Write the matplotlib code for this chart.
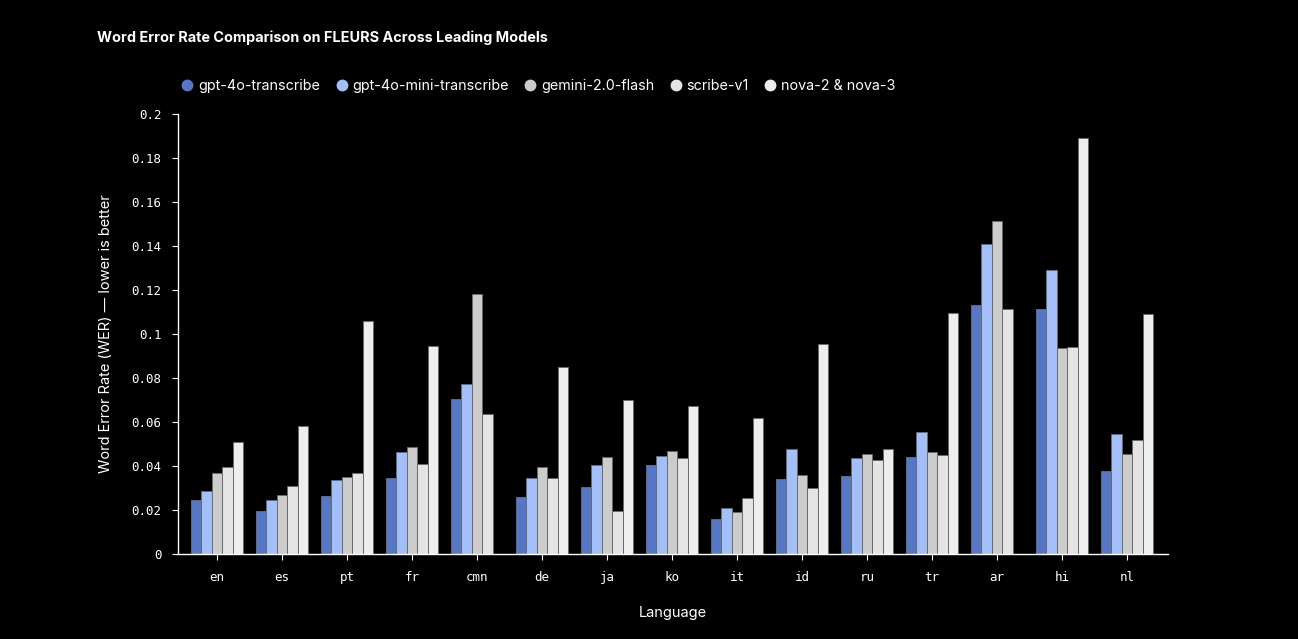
import numpy as np
import matplotlib.pyplot as plt
from matplotlib.lines import Line2D

languages = ["en", "es", "pt", "fr", "cmn", "de", "ja", "ko", "it", "id", "ru", "tr", "ar", "hi", "nl"]
models = ["gpt-4o-transcribe", "gpt-4o-mini-transcribe", "gemini-2.0-flash", "scribe-v1", "nova-2 & nova-3"]
colors = ["#5577C5", "#A3BFFA", "#CCCCCC", "#E4E4E4", "#EEEEEE"]

gpt4o = [0.0247, 0.0197, 0.0264, 0.0347, 0.0705, 0.0259, 0.0305, 0.0405, 0.0161, 0.0343, 0.0355, 0.0442, 0.1130, 0.1114, 0.0379]
gpt4o_mini = [0.0288, 0.0245, 0.0338, 0.0465, 0.0771, 0.0347, 0.0403, 0.0447, 0.0208, 0.0476, 0.0435, 0.0553, 0.1408, 0.1291, 0.0545]
gemini = [0.0366, 0.0268, 0.0350, 0.0486, 0.1183, 0.0395, 0.0443, 0.0467, 0.0190, 0.0361, 0.0455, 0.0465, 0.1514, 0.0936, 0.0455]
scribe = [0.0395, 0.0307, 0.0366, 0.0409, 0.0635, 0.0347, 0.0197, 0.0436, 0.0253, 0.0300, 0.0427, 0.0449, 0.1115, 0.0941, 0.0517]
nova = [0.0509, 0.0582, 0.1060, 0.0947, np.nan, 0.0849, 0.0700, 0.0671, 0.0617, 0.0955, 0.0477, 0.1095, np.nan, 0.1891, 0.1091]
series = [gpt4o, gpt4o_mini, gemini, scribe, nova]

plt.rcParams['font.family'] = ['Inter', 'DejaVu Sans']

fig = plt.figure(figsize=(12.98, 6.39), dpi=100, facecolor='black')
ax = fig.add_axes([178/1298, 85/639, 990/1298, 440/639])
ax.set_facecolor('black')

x = np.arange(len(languages))
w = 0.16
for i, (vals, c) in enumerate(zip(series, colors)):
    v = np.array(vals, dtype=float)
    m = ~np.isnan(v)
    ax.bar(x[m] + (i - 2) * w, v[m], width=w, color=c, edgecolor='#6a6a6a', linewidth=0.7)

ax.set_xlim(-0.6, len(languages) - 1 + 0.63)
ax.set_ylim(0, 0.2)
ax.set_yticks(np.arange(0, 0.201, 0.02))
ax.set_yticklabels(['0', '0.02', '0.04', '0.06', '0.08', '0.1', '0.12', '0.14', '0.16', '0.18', '0.2'])
ax.set_xticks(x)
ax.set_xticklabels(languages)

for lab in ax.get_xticklabels() + ax.get_yticklabels():
    lab.set_family('DejaVu Sans Mono')
    lab.set_fontsize(9)
    lab.set_color('white')

ax.tick_params(colors='white', length=4, width=0.8, pad=8)
for s in ['top', 'right']:
    ax.spines[s].set_visible(False)
for s in ['left', 'bottom']:
    ax.spines[s].set_color('white')
    ax.spines[s].set_linewidth(1)

ax.set_ylabel('Word Error Rate (WER) — lower is better', color='white', fontsize=10.5, labelpad=13)
ax.set_xlabel('Language', color='white', fontsize=10.5, labelpad=16)

fig.text(97/1298, 1 - 38/639, 'Word Error Rate Comparison on FLEURS Across Leading Models',
         color='white', fontsize=10.4, fontweight='bold', va='center', ha='left')

handles = [Line2D([], [], marker='o', linestyle='none', markersize=7.5, markerfacecolor=c,
                  markeredgecolor=c) for c in colors]
fig.legend(handles, models, loc='center left', bbox_to_anchor=(166/1298, 1 - 86/639), ncol=5,
           frameon=False, fontsize=10.3, labelcolor='white', handletextpad=0.15, columnspacing=0.9,
           handlelength=1.2)

fig.savefig('out.png', dpi=100, facecolor='black')
